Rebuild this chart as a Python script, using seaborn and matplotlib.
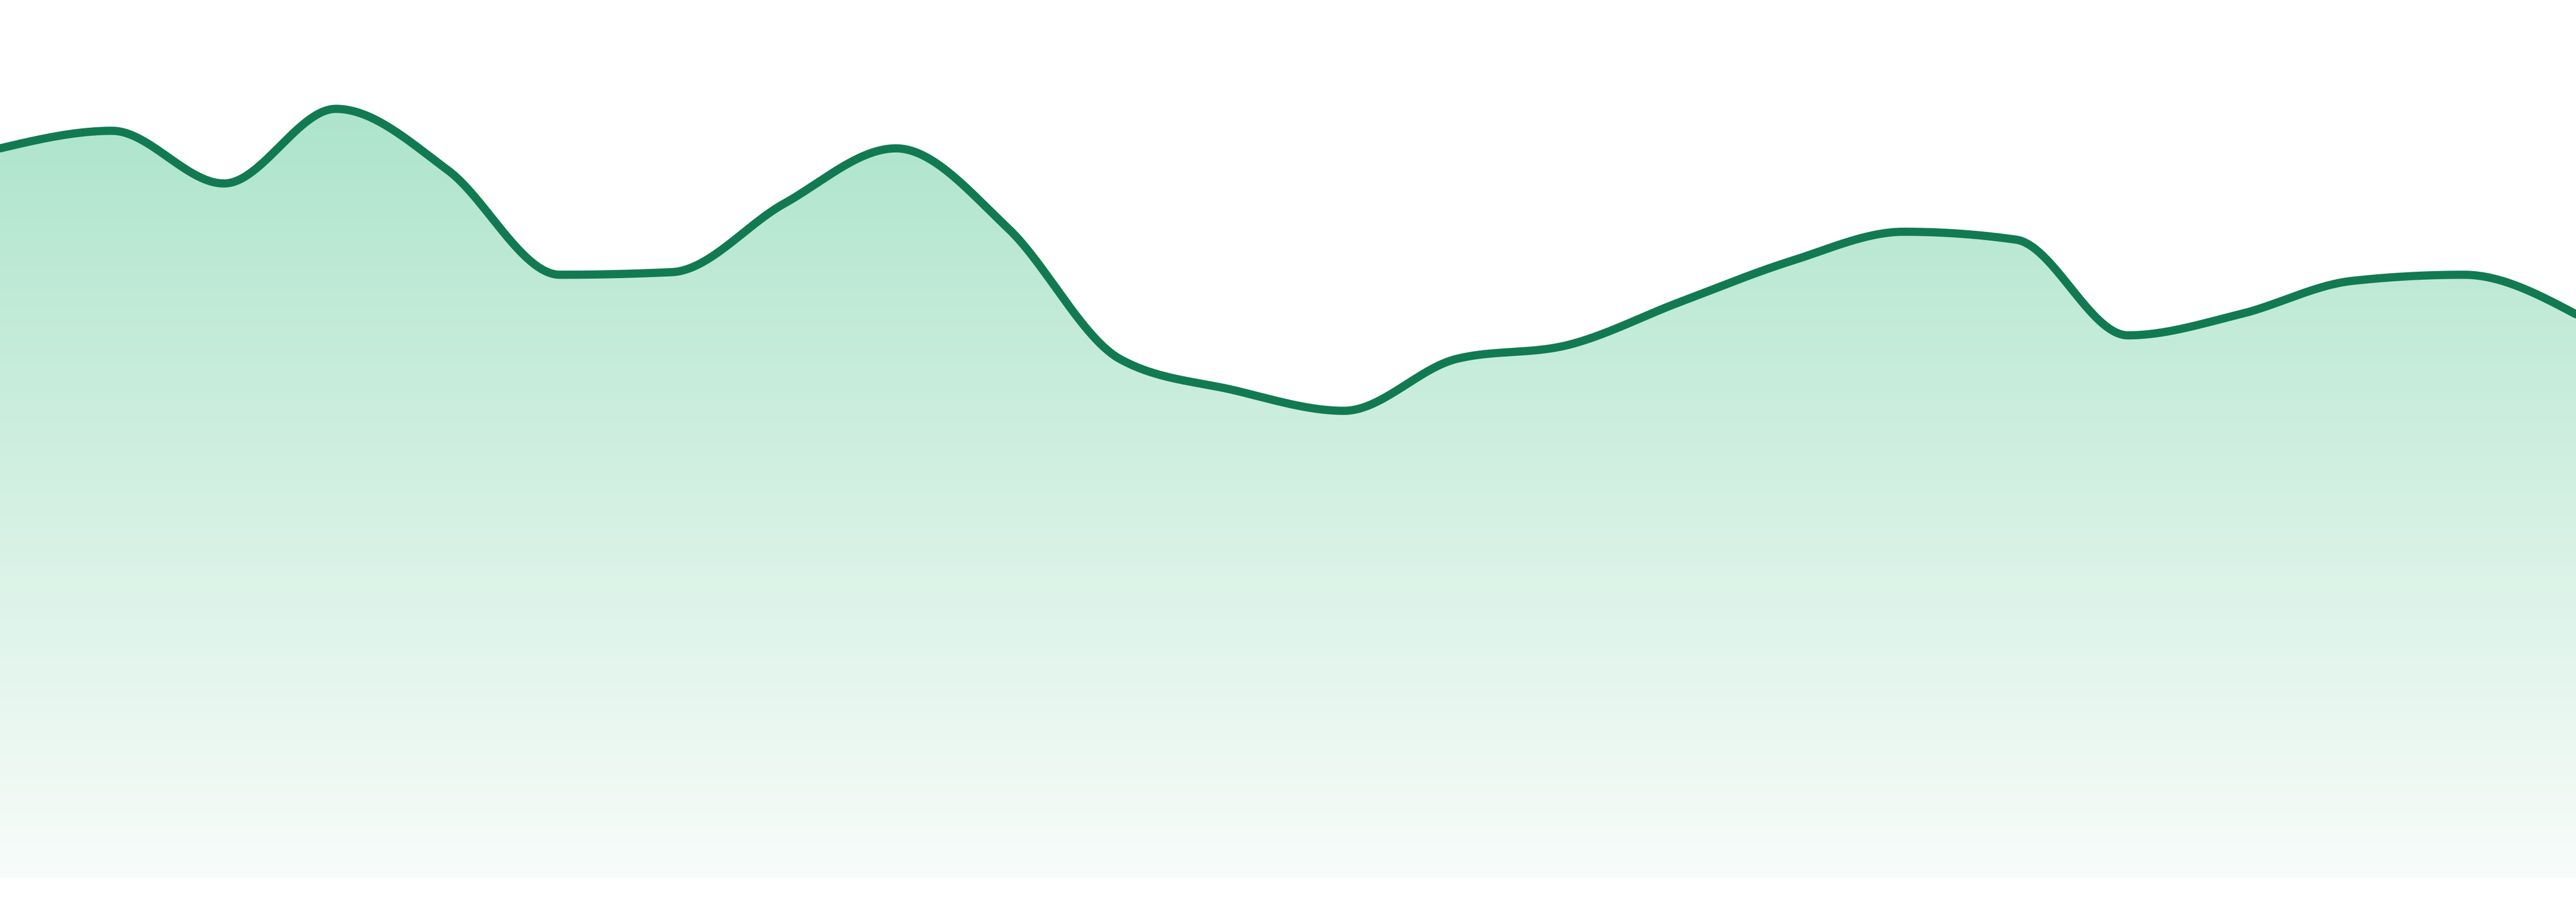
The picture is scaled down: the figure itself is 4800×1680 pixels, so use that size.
import numpy as np
import pandas as pd
import matplotlib
matplotlib.use("Agg")
import matplotlib.pyplot as plt
import seaborn as sns
from matplotlib.colors import LinearSegmentedColormap

# values (0..100 scale, baseline at the bottom of the fill)
points = list(range(24))
values = [83.1, 85.1, 79.1, 87.6, 80.6, 68.7, 69.0, 76.8, 83.1, 74.0, 59.1, 55.6,
          53.2, 59.1, 60.7, 65.6, 70.3, 73.6, 72.7, 61.8, 64.2, 68.0, 68.7, 64.2]

line_color = "#127a52"
fill_top = "#a3e1c5"
fill_bottom = "#f8fcfa"


def monotone_x(x, y, per_seg=60):
    # same curve as d3.curveMonotoneX
    x = np.asarray(x, float)
    y = np.asarray(y, float)
    n = len(x)
    h = np.diff(x)
    s = np.diff(y) / h
    t = np.zeros(n)
    for i in range(1, n - 1):
        h0, h1 = h[i - 1], h[i]
        s0, s1 = s[i - 1], s[i]
        p = (s0 * h1 + s1 * h0) / (h0 + h1)
        t[i] = (np.sign(s0) + np.sign(s1)) * min(abs(s0), abs(s1), 0.5 * abs(p))
    t[0] = (3 * s[0] - t[1]) / 2
    t[-1] = (3 * s[-1] - t[-2]) / 2
    xs, ys = [], []
    for i in range(n - 1):
        u = np.linspace(0, 1, per_seg, endpoint=(i == n - 2))
        dx = h[i]
        h00 = 2 * u**3 - 3 * u**2 + 1
        h10 = u**3 - 2 * u**2 + u
        h01 = -2 * u**3 + 3 * u**2
        h11 = u**3 - u**2
        xs.append(x[i] + u * dx)
        ys.append(h00 * y[i] + h10 * dx * t[i] + h01 * y[i + 1] + h11 * dx * t[i + 1])
    return np.concatenate(xs), np.concatenate(ys)


df = pd.DataFrame({"point": points, "value": values})
cx, cy = monotone_x(df["point"], df["value"])
curve = pd.DataFrame({"x": cx, "y": cy})

sns.set_style("white")
fig = plt.figure(figsize=(48, 16.8), dpi=100)
ax = fig.add_axes([0, 45 / 1680, 1, 1635 / 1680])
ax.set_xlim(0, 23)
ax.set_ylim(0, 100)
ax.axis("off")

# gradient fill under the curve
fill = ax.fill_between(curve["x"], curve["y"], 0, color="none", lw=0)
cmap = LinearSegmentedColormap.from_list("grad", [fill_bottom, fill_top])
grad = np.linspace(0, 1, 512).reshape(-1, 1)
img = ax.imshow(grad, cmap=cmap, aspect="auto", origin="lower",
                extent=[0, 23, 0, 100], zorder=1)
img.set_clip_path(fill.get_paths()[0], transform=ax.transData)

sns.lineplot(data=curve, x="x", y="y", color=line_color, linewidth=11,
             ax=ax, zorder=3, sort=False)
ax.set_xlim(0, 23)
ax.set_ylim(0, 100)
ax.axis("off")

fig.savefig("out.png", dpi=100, facecolor="white")
